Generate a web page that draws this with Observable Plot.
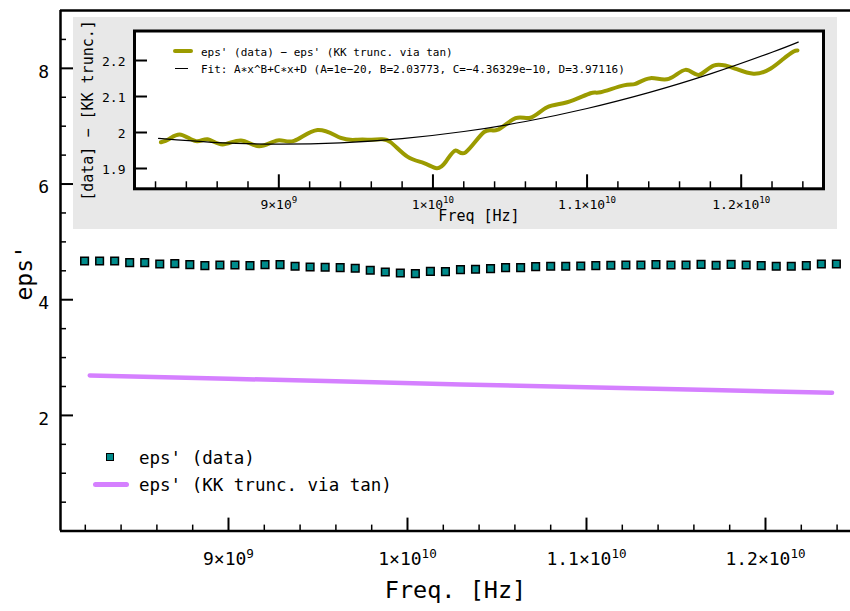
<!DOCTYPE html>
<html><head><meta charset="utf-8">
<script src="https://cdn.jsdelivr.net/npm/d3@7"></script>
<script src="https://cdn.jsdelivr.net/npm/@observablehq/plot@0.6"></script>
<style>
html,body{margin:0;padding:0;background:#fff;overflow:hidden;}
#wrap{position:relative;width:850px;height:611px;font-family:"DejaVu Sans Mono",monospace;}
#main,#inset{position:absolute;}
#main{left:0;top:0;}
#inset{left:73px;top:17px;}
.leg{position:absolute;white-space:pre;color:#000;font-family:"DejaVu Sans Mono",monospace;}
.sw{position:absolute;box-sizing:border-box;}
</style></head><body>
<div id="wrap"><div id="main"></div><div id="inset"></div></div>
<script>
// ---------- data (frequencies in GHz) ----------
const freqGHz = [8.196,8.280,8.364,8.448,8.532,8.616,8.700,8.784,8.868,8.952,9.036,9.120,9.204,9.288,9.372,9.456,9.540,9.624,9.708,9.792,9.876,9.960,10.044,10.128,10.212,10.296,10.380,10.464,10.548,10.632,10.716,10.800,10.884,10.968,11.052,11.136,11.220,11.304,11.388,11.472,11.556,11.640,11.724,11.808,11.892,11.976,12.060,12.144,12.228,12.312,12.396];
const epsData = [4.670,4.670,4.670,4.641,4.641,4.618,4.624,4.607,4.589,4.601,4.601,4.589,4.607,4.607,4.578,4.566,4.561,4.555,4.543,4.509,4.480,4.462,4.451,4.491,4.486,4.520,4.526,4.538,4.555,4.555,4.572,4.578,4.578,4.584,4.589,4.595,4.601,4.601,4.607,4.601,4.601,4.612,4.595,4.612,4.601,4.589,4.578,4.578,4.589,4.618,4.618];
const kkFreqGHz = [8.225,9.0,9.6,10.3,11.0,11.7,12.372];
const epsKK = [2.692,2.634,2.590,2.536,2.487,2.439,2.393];
const diffFreqGHz = [8.235,8.289,8.365,8.462,8.538,8.635,8.754,8.872,8.992,9.099,9.251,9.402,9.510,9.596,9.661,9.726,9.834,9.942,10.024,10.082,10.147,10.212,10.331,10.417,10.536,10.633,10.741,10.871,11.022,11.087,11.238,11.314,11.411,11.530,11.638,11.724,11.821,11.951,12.080,12.189,12.275,12.340,12.365];
const diffVals = [1.973,1.982,1.994,1.976,1.981,1.967,1.978,1.962,1.978,1.977,2.007,1.985,1.980,1.980,1.981,1.973,1.933,1.915,1.901,1.918,1.950,1.945,2.001,2.007,2.040,2.041,2.070,2.084,2.109,2.112,2.131,2.135,2.151,2.149,2.174,2.160,2.186,2.179,2.163,2.177,2.205,2.225,2.228];
const fitFreqGHz = [8.22,8.6,9.0,9.4,9.8,10.2,10.6,11.0,11.4,11.8,12.2,12.37];
const fitVals = [1.9836,1.9720,1.9675,1.9713,1.9831,2.0028,2.0306,2.0666,2.1107,2.1627,2.2230,2.2512];

const xTicks = [9,10,11,12];
const xTickLabels = ["9×10^9","1×10^10","1.1×10^10","1.2×10^10"];
const xMinorTicks = [8.2,8.4,8.6,8.8,9.2,9.4,9.6,9.8,10.2,10.4,10.6,10.8,11.2,11.4,11.6,11.8,12.2,12.4];
const yTicks = [2,4,6,8];
const yTickLabels = ["2","4","6","8"];
const yMinorTicks = [0.5,1,1.5,2.5,3,3.5,4.5,5,5.5,6.5,7,7.5,8.5];
const insetYTicks = [1.9,2,2.1,2.2];
const insetYTickLabels = ["1.9","2","2.1","2.2"];

const legendMain = ["eps' (data)", "eps' (KK trunc. via tan)"];
const legendInset = ["eps' (data) − eps' (KK trunc. via tan)",
  "Fit: A∗x^B+C∗x+D (A=1e−20, B=2.03773, C=−4.36329e−10, D=3.97116)"];

// ---------- tables ----------
const dataTbl = freqGHz.map((f,i)=>({f, v: epsData[i]}));
const kkTbl = kkFreqGHz.map((f,i)=>({f, v: epsKK[i]}));
const diffTbl = diffFreqGHz.map((f,i)=>({f, v: diffVals[i]}));
const fitTbl = fitFreqGHz.map((f,i)=>({f, v: fitVals[i]}));

const FONT = "DejaVu Sans Mono";

function superscriptify(svg, sel){
  svg.querySelectorAll(sel).forEach(t=>{
    const s = t.textContent;
    const k = s.indexOf("^");
    if (k < 0) return;
    t.textContent = s.slice(0,k);
    const ts = document.createElementNS("http://www.w3.org/2000/svg","tspan");
    ts.setAttribute("font-size","0.7em");
    ts.setAttribute("dy","-0.62em");
    ts.textContent = s.slice(k+1);
    t.appendChild(ts);
  });
}

// ---------- main plot ----------
const W = 850, H = 611, mL = 60, mR = 0, mT = 10, mB = 80.4;
const xDom = [8.0615, 12.4749], yDom = [0, 9.0];
const innerW = W - mL - mR, innerH = H - mT - mB;

const main = Plot.plot({
  width: W, height: H,
  marginLeft: mL, marginRight: mR, marginTop: mT, marginBottom: mB,
  x: {domain: xDom, label: null},
  y: {domain: yDom, label: null},
  style: {fontFamily: FONT, fontSize: "18px", background: "transparent", overflow: "visible"},
  marks: [
    Plot.ruleX(xMinorTicks, {x: d=>d, insetTop: innerH - 6, stroke: "black", strokeWidth: 1.5}),
    Plot.ruleX(xTicks, {x: d=>d, insetTop: innerH - 13, stroke: "black", strokeWidth: 2}),
    Plot.ruleY(yMinorTicks, {y: d=>d, insetRight: innerW - 6, stroke: "black", strokeWidth: 1.5}),
    Plot.ruleY(yTicks, {y: d=>d, insetRight: innerW - 13, stroke: "black", strokeWidth: 2}),
    Plot.ruleY([yDom[0]], {stroke: "black", strokeWidth: 2.5}),
    Plot.ruleY([yDom[1]], {stroke: "black", strokeWidth: 2.5}),
    Plot.ruleX([xDom[0]], {stroke: "black", strokeWidth: 2.5}),
    Plot.line(kkTbl, {x: "f", y: "v", stroke: "#d580ff", strokeWidth: 4.5, strokeLinecap: "round"}),
    Plot.dot(dataTbl, {x: "f", y: "v", symbol: "square", r: 4.3, fill: "#008b8b", stroke: "black", strokeWidth: 1.5}),
    Plot.axisX({ticks: xTicks, tickSize: 0, tickPadding: 21.6, tickFormat: (d)=>xTickLabels[xTicks.indexOf(d)], label: null, fontSize: 18}),
    Plot.axisY({ticks: yTicks, tickSize: 0, tickPadding: 11.5, dy: 3.5, tickFormat: (d)=>yTickLabels[yTicks.indexOf(d)], label: null, fontSize: 18}),
    Plot.text(["Freq. [Hz]"], {text: d=>d, frameAnchor: "bottom", dy: 59, lineAnchor: "middle", textAnchor: "middle", fontSize: 23.5}),
    Plot.text(["eps'"], {text: d=>d, frameAnchor: "left", dx: -36, dy: 2, rotate: -90, lineAnchor: "middle", textAnchor: "middle", fontSize: 23})
  ]
});
superscriptify(main, 'g[aria-label="x-axis tick label"] text');
document.getElementById("main").appendChild(main);

// ---------- inset plot ----------
const IW = 764, IH = 212, iL = 61, iR = 14, iT = 13.5, iB = 40.7;
const ixDom = [8.0636, 12.534], iyDom = [1.8436, 2.282];
const iInnerW = IW - iL - iR, iInnerH = IH - iT - iB;
const inset = Plot.plot({
  width: IW, height: IH,
  marginLeft: iL, marginRight: iR, marginTop: iT, marginBottom: iB,
  x: {domain: ixDom, label: null},
  y: {domain: iyDom, label: null},
  style: {fontFamily: FONT, fontSize: "13px", background: "#e8e8e8", overflow: "visible"},
  marks: [
    Plot.frame({fill: "white", stroke: null}),
    Plot.ruleX(xMinorTicks, {x: d=>d, insetTop: iInnerH - 7, stroke: "black", strokeWidth: 1.5}),
    Plot.ruleX(xTicks, {x: d=>d, insetTop: iInnerH - 14, stroke: "black", strokeWidth: 2}),
    Plot.ruleY(insetYTicks, {y: d=>d, insetRight: iInnerW - 13, stroke: "black", strokeWidth: 2}),
    Plot.line(diffTbl, {x: "f", y: "v", curve: "natural", stroke: "#9b9b00", strokeWidth: 4, strokeLinecap: "round"}),
    Plot.line(fitTbl, {x: "f", y: "v", curve: "natural", stroke: "black", strokeWidth: 1.2}),
    Plot.frame({stroke: "black", strokeWidth: 3}),
    Plot.axisX({ticks: xTicks, tickSize: 0, tickPadding: 10.8, tickFormat: (d)=>xTickLabels[xTicks.indexOf(d)], label: null, fontSize: 13}),
    Plot.axisY({ticks: insetYTicks, tickSize: 0, tickPadding: 9, dy: 1, tickFormat: (d)=>insetYTickLabels[insetYTicks.indexOf(d)], label: null, fontSize: 13}),
    Plot.text(["Freq [Hz]"], {text: d=>d, frameAnchor: "bottom", dy: 27.5, lineAnchor: "middle", textAnchor: "middle", fontSize: 15}),
    Plot.text(["[data] − [KK trunc.]"], {text: d=>d, frameAnchor: "left", dx: -46, dy: 0.6, rotate: -90, lineAnchor: "middle", textAnchor: "middle", fontSize: 15})
  ]
});
superscriptify(inset, 'g[aria-label="x-axis tick label"] text');
document.getElementById("inset").appendChild(inset);

// ---------- legends ----------
const wrap = document.getElementById("wrap");
function el(cls, css, text){
  const d = document.createElement("div");
  d.className = cls; d.style.cssText = css;
  if (text != null) d.textContent = text;
  wrap.appendChild(d);
  return d;
}
// main legend
el("sw", "left:105.8px;top:452.8px;width:8.6px;height:8.6px;background:#008b8b;border:1.5px solid #000;");
el("leg", "left:139px;top:450.2px;font-size:17.5px;line-height:17px;", legendMain[0]);
el("sw", "left:92.5px;top:481.5px;width:36px;height:5px;border-radius:2.5px;background:#d580ff;");
el("leg", "left:139px;top:476.8px;font-size:17.5px;line-height:17px;", legendMain[1]);
// inset legend
el("sw", "left:173px;top:49.3px;width:20px;height:4px;border-radius:2px;background:#9b9b00;");
el("leg", "left:201px;top:47.2px;font-size:11px;line-height:11px;", legendInset[0]);
el("sw", "left:175px;top:67.7px;width:13px;height:1.3px;background:#000;");
el("leg", "left:201px;top:64.2px;font-size:11px;line-height:11px;", legendInset[1]);
</script>
</body></html>
